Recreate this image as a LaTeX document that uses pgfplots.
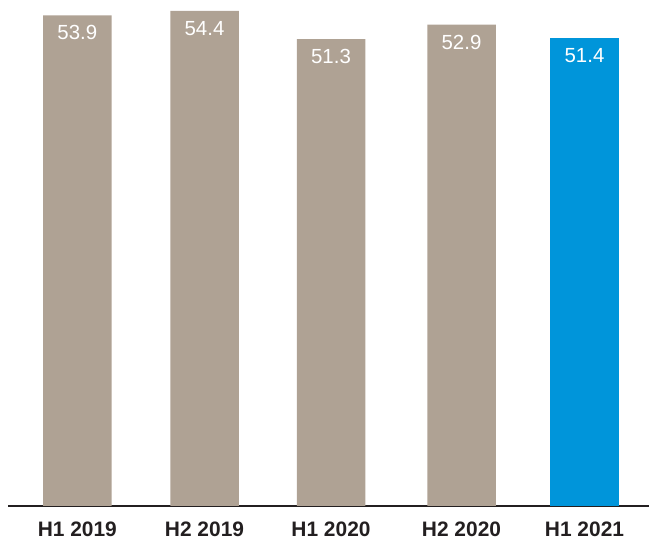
\documentclass[border=0pt]{standalone}
\usepackage{pgfplots}
\pgfplotsset{compat=1.18}
\usepackage{fontspec}
\setmainfont{Liberation Sans}
\definecolor{taupe}{RGB}{175,162,148}
\definecolor{brandblue}{RGB}{0,149,218}
\definecolor{inkblack}{RGB}{35,31,32}
\begin{document}
\begin{tikzpicture}
\useasboundingbox (-8bp,-34bp) rectangle (641bp,506bp);
\begin{axis}[
    scale only axis,
    width=641bp, height=506bp,
    ybar, bar width=68.5,
    xmin=8, xmax=649,
    ymin=0, ymax=55.6,
    axis x line*=bottom,
    axis y line=none,
    x axis line style={draw=inkblack, line width=1.2bp, -},
    xtick={77.3,204.5,331,461.5,584.5},
    xticklabels={H1 2019,H2 2019,H1 2020,H2 2020,H1 2021},
    major tick length=0pt,
    xticklabel style={font=\fontsize{21}{24}\selectfont\bfseries, text=inkblack, inner sep=0pt, yshift=-16bp},
    nodes near coords,
    nodes near coords style={font=\fontsize{20.5}{24}\selectfont, text=white, anchor=north, inner sep=0pt, yshift=-10bp},
    point meta=explicit symbolic,
    clip=false,
]
\addplot[fill=taupe, draw=none, bar shift=0pt] coordinates {
    (77.3,53.9) [53.9]
    (204.5,54.4) [54.4]
    (331,51.3) [51.3]
    (461.5,52.9) [52.9]
};
\addplot[fill=brandblue, draw=none, bar shift=0pt] coordinates {
    (584.5,51.4) [51.4]
};
\end{axis}
\end{tikzpicture}
\end{document}
